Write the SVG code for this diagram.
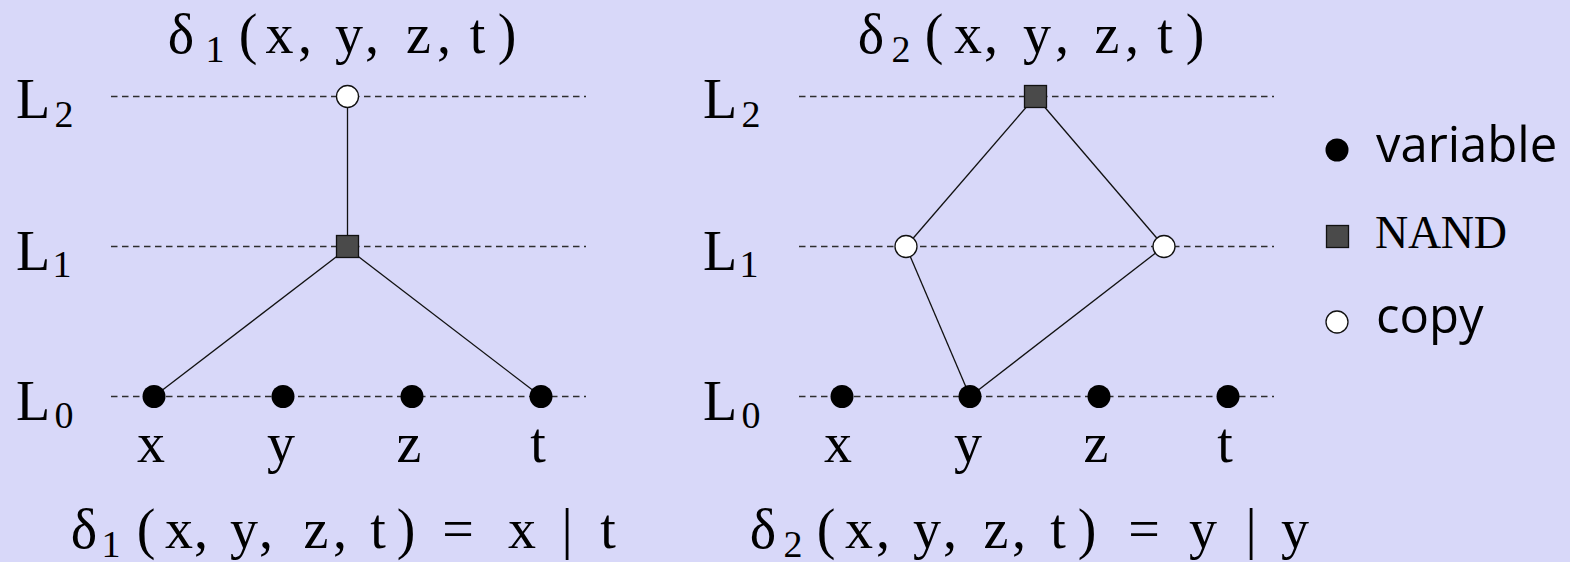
<svg xmlns="http://www.w3.org/2000/svg" width="1570" height="562" viewBox="0 0 1570 562">
<style>
.bg{fill:#d8d8f9}
.lvl{stroke:#2e2e2e;stroke-width:1.4;stroke-dasharray:6.5 4.5;fill:none}
.edge{stroke:#111;stroke-width:1.3;fill:none}
.var{fill:#000}
.copy{fill:#fff;stroke:#111;stroke-width:1.3}
.nand{fill:#4a4a4a;stroke:#111;stroke-width:1.3}
.m{font-family:"Liberation Serif","DejaVu Serif",serif;font-size:56px;fill:#000;text-anchor:middle}
.s{font-size:38px}
.leg{font-family:"Open Sans","Noto Sans",sans-serif;font-size:49px;fill:#000}
.mono{font-family:"Liberation Serif","DejaVu Serif",serif;font-size:46px;fill:#000}
</style>
<rect class="bg" x="0" y="0" width="1570" height="562"/>

<!-- level lines -->
<g id="levels">
<line class="lvl" x1="111" y1="96.5" x2="586" y2="96.5"/>
<line class="lvl" x1="111" y1="246.5" x2="586" y2="246.5"/>
<line class="lvl" x1="111" y1="396.5" x2="586" y2="396.5"/>
<line class="lvl" x1="799" y1="96.5" x2="1274" y2="96.5"/>
<line class="lvl" x1="799" y1="246.5" x2="1274" y2="246.5"/>
<line class="lvl" x1="799" y1="396.5" x2="1274" y2="396.5"/>
</g>

<!-- level labels -->
<g id="level-labels">
<text class="m"><tspan x="33" y="118">L</tspan><tspan class="s" x="64" y="127">2</tspan></text>
<text class="m"><tspan x="33" y="270">L</tspan><tspan class="s" x="62" y="277">1</tspan></text>
<text class="m"><tspan x="33" y="420">L</tspan><tspan class="s" x="64" y="428">0</tspan></text>
<text class="m"><tspan x="720" y="118">L</tspan><tspan class="s" x="751" y="127">2</tspan></text>
<text class="m"><tspan x="720" y="270">L</tspan><tspan class="s" x="749" y="277">1</tspan></text>
<text class="m"><tspan x="720" y="420">L</tspan><tspan class="s" x="751" y="428">0</tspan></text>
</g>

<!-- connectors -->
<g id="connectors">
<line class="edge" x1="347.5" y1="107" x2="347.5" y2="235.5"/>
<line class="edge" x1="340" y1="254" x2="154" y2="396.5"/>
<line class="edge" x1="355" y1="254" x2="541" y2="396.5"/>
<line class="edge" x1="1029" y1="104" x2="906" y2="246.5"/>
<line class="edge" x1="1042" y1="104" x2="1164" y2="246.5"/>
<line class="edge" x1="906" y1="246.5" x2="970" y2="396.5"/>
<line class="edge" x1="1164" y1="246.5" x2="970" y2="396.5"/>
</g>

<!-- left circuit nodes -->
<g id="d1-copy"><circle class="copy" cx="347.5" cy="96.5" r="11"/></g>
<g id="d1-nand"><rect class="nand" x="336.5" y="235.5" width="22" height="22"/></g>
<g id="d1-x"><circle class="var" cx="154" cy="396.5" r="11.5"/><text class="m" x="151" y="462">x</text></g>
<g id="d1-y"><circle class="var" cx="283" cy="396.5" r="11.5"/><text class="m" x="281" y="462">y</text></g>
<g id="d1-z"><circle class="var" cx="412" cy="396.5" r="11.5"/><text class="m" x="409" y="462">z</text></g>
<g id="d1-t"><circle class="var" cx="541" cy="396.5" r="11.5"/><text class="m" x="538" y="462">t</text></g>

<!-- right circuit nodes -->
<g id="d2-nand"><rect class="nand" x="1024.5" y="85.5" width="22" height="22"/></g>
<g id="d2-copy-left"><circle class="copy" cx="906" cy="246.5" r="11"/></g>
<g id="d2-copy-right"><circle class="copy" cx="1164" cy="246.5" r="11"/></g>
<g id="d2-x"><circle class="var" cx="842" cy="396.5" r="11.5"/><text class="m" x="838" y="462">x</text></g>
<g id="d2-y"><circle class="var" cx="970" cy="396.5" r="11.5"/><text class="m" x="968" y="462">y</text></g>
<g id="d2-z"><circle class="var" cx="1099" cy="396.5" r="11.5"/><text class="m" x="1096" y="462">z</text></g>
<g id="d2-t"><circle class="var" cx="1228" cy="396.5" r="11.5"/><text class="m" x="1225" y="462">t</text></g>

<!-- titles -->
<g id="title-d1">
<text class="m"><tspan x="181" y="53">δ</tspan><tspan class="s" x="215" y="62">1</tspan><tspan x="248" y="53">(</tspan><tspan x="279.5" y="53">x</tspan><tspan x="305" y="53">,</tspan><tspan x="349" y="53">y</tspan><tspan x="372" y="53">,</tspan><tspan x="418.5" y="53">z</tspan><tspan x="444" y="53">,</tspan><tspan x="477.5" y="53">t</tspan><tspan x="507" y="53">)</tspan></text>
</g>
<g id="title-d2">
<text class="m"><tspan x="871" y="53">δ</tspan><tspan class="s" x="901" y="62">2</tspan><tspan x="934" y="53">(</tspan><tspan x="968" y="53">x</tspan><tspan x="991" y="53">,</tspan><tspan x="1037" y="53">y</tspan><tspan x="1062" y="53">,</tspan><tspan x="1107" y="53">z</tspan><tspan x="1132" y="53">,</tspan><tspan x="1165" y="53">t</tspan><tspan x="1195" y="53">)</tspan></text>
</g>

<!-- formulas -->
<g id="formula-d1">
<text class="m"><tspan x="84" y="548">δ</tspan><tspan class="s" x="111" y="557">1</tspan><tspan x="146" y="548">(</tspan><tspan x="179" y="548">x</tspan><tspan x="201" y="548">,</tspan><tspan x="244" y="548">y</tspan><tspan x="266" y="548">,</tspan><tspan x="316" y="548">z</tspan><tspan x="340" y="548">,</tspan><tspan x="378" y="548">t</tspan><tspan x="406" y="548">)</tspan><tspan x="458" y="548">=</tspan><tspan x="522" y="548">x</tspan><tspan x="567" y="548">|</tspan><tspan x="608" y="548">t</tspan></text>
</g>
<g id="formula-d2">
<text class="m"><tspan x="763" y="548">δ</tspan><tspan class="s" x="793" y="557">2</tspan><tspan x="826" y="548">(</tspan><tspan x="859" y="548">x</tspan><tspan x="883" y="548">,</tspan><tspan x="927" y="548">y</tspan><tspan x="950" y="548">,</tspan><tspan x="996" y="548">z</tspan><tspan x="1019" y="548">,</tspan><tspan x="1058" y="548">t</tspan><tspan x="1087" y="548">)</tspan><tspan x="1144" y="548">=</tspan><tspan x="1203" y="548">y</tspan><tspan x="1251" y="548">|</tspan><tspan x="1295" y="548">y</tspan></text>
</g>

<!-- legend -->
<g id="legend-variable"><circle class="var" cx="1337" cy="150" r="11.5"/><text class="leg" x="1376" y="162">variable</text></g>
<g id="legend-nand"><rect class="nand" x="1326.5" y="225.5" width="22" height="22"/><text class="mono" x="1375" y="248" textLength="132" lengthAdjust="spacing">NAND</text></g>
<g id="legend-copy"><circle class="copy" cx="1337" cy="322" r="11"/><text class="leg" x="1376" y="333">copy</text></g>
</svg>
